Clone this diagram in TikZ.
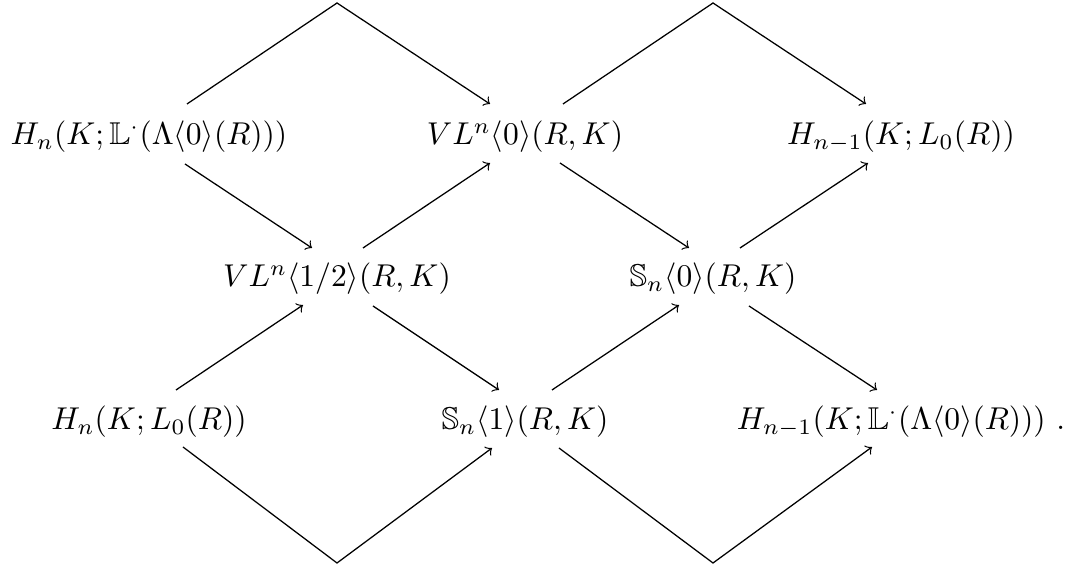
\documentclass[tikz,border=0pt]{standalone}
\usepackage{amssymb}
\begin{document}
\begin{tikzpicture}[x=0.317pt,y=-0.317pt,
  obj/.style={inner sep=0pt, anchor=base},
  arr/.style={->, line width=0.4pt, line join=miter}]
\useasboundingbox (0,0) rectangle (1072,564);
% objects
\node[obj] (A) at (149,145) {$H_n(K;\mathbb{L}^{\cdot}(\Lambda\langle 0\rangle(R)))$};
\node[obj] (B) at (525,145) {$VL^n\langle 0\rangle(R,K)$};
\node[obj] (C) at (901,145) {$H_{n-1}(K;L_0(R))$};
\node[obj] (D) at (337,287) {$VL^n\langle 1/2\rangle(R,K)$};
\node[obj] (E) at (713,287) {$\mathbb{S}_n\langle 0\rangle(R,K)$};
\node[obj] (F) at (149,430) {$H_n(K;L_0(R))$};
\node[obj] (G) at (525,430) {$\mathbb{S}_n\langle 1\rangle(R,K)$};
\node[obj] (H) at (901,430) {$H_{n-1}(K;\mathbb{L}^{\cdot}(\Lambda\langle 0\rangle(R)))\ .$};
% corner points
\coordinate (P1) at (337,3);
\coordinate (P2) at (713,3);
\coordinate (V1) at (337,563);
\coordinate (V2) at (713,563);
% arrow ends
\coordinate (Aup) at (187,104);
\coordinate (Adn) at (185,164);
\coordinate (Binup) at (490,104);
\coordinate (Bindn) at (490,163);
\coordinate (Boutup) at (563,104);
\coordinate (Boutdn) at (560,163);
\coordinate (Cinup) at (866,104);
\coordinate (Cindn) at (868,163);
\coordinate (Dinup) at (312,248);
\coordinate (Doutup) at (363,248);
\coordinate (Dindn) at (303,305);
\coordinate (Doutdn) at (373,306);
\coordinate (Einup) at (689,248);
\coordinate (Eoutup) at (740,248);
\coordinate (Eindn) at (679,305);
\coordinate (Eoutdn) at (749,306);
\coordinate (Fup) at (176,390);
\coordinate (Fdn) at (183,447);
\coordinate (Ginup) at (499,390);
\coordinate (Goutup) at (552,390);
\coordinate (Gindn) at (492,448);
\coordinate (Goutdn) at (559,448);
\coordinate (Hinup) at (877,390);
\coordinate (Hindn) at (872,447);
% connectors
\draw[arr] (Aup) -- (P1) -- (Binup);
\draw[arr] (Adn) -- (Dinup);
\draw[arr] (Doutup) -- (Bindn);
\draw[arr] (Boutup) -- (P2) -- (Cinup);
\draw[arr] (Boutdn) -- (Einup);
\draw[arr] (Eoutup) -- (Cindn);
\draw[arr] (Fup) -- (Dindn);
\draw[arr] (Doutdn) -- (Ginup);
\draw[arr] (Goutup) -- (Eindn);
\draw[arr] (Eoutdn) -- (Hinup);
\draw[arr] (Fdn) -- (V1) -- (Gindn);
\draw[arr] (Goutdn) -- (V2) -- (Hindn);
\end{tikzpicture}
\end{document}
